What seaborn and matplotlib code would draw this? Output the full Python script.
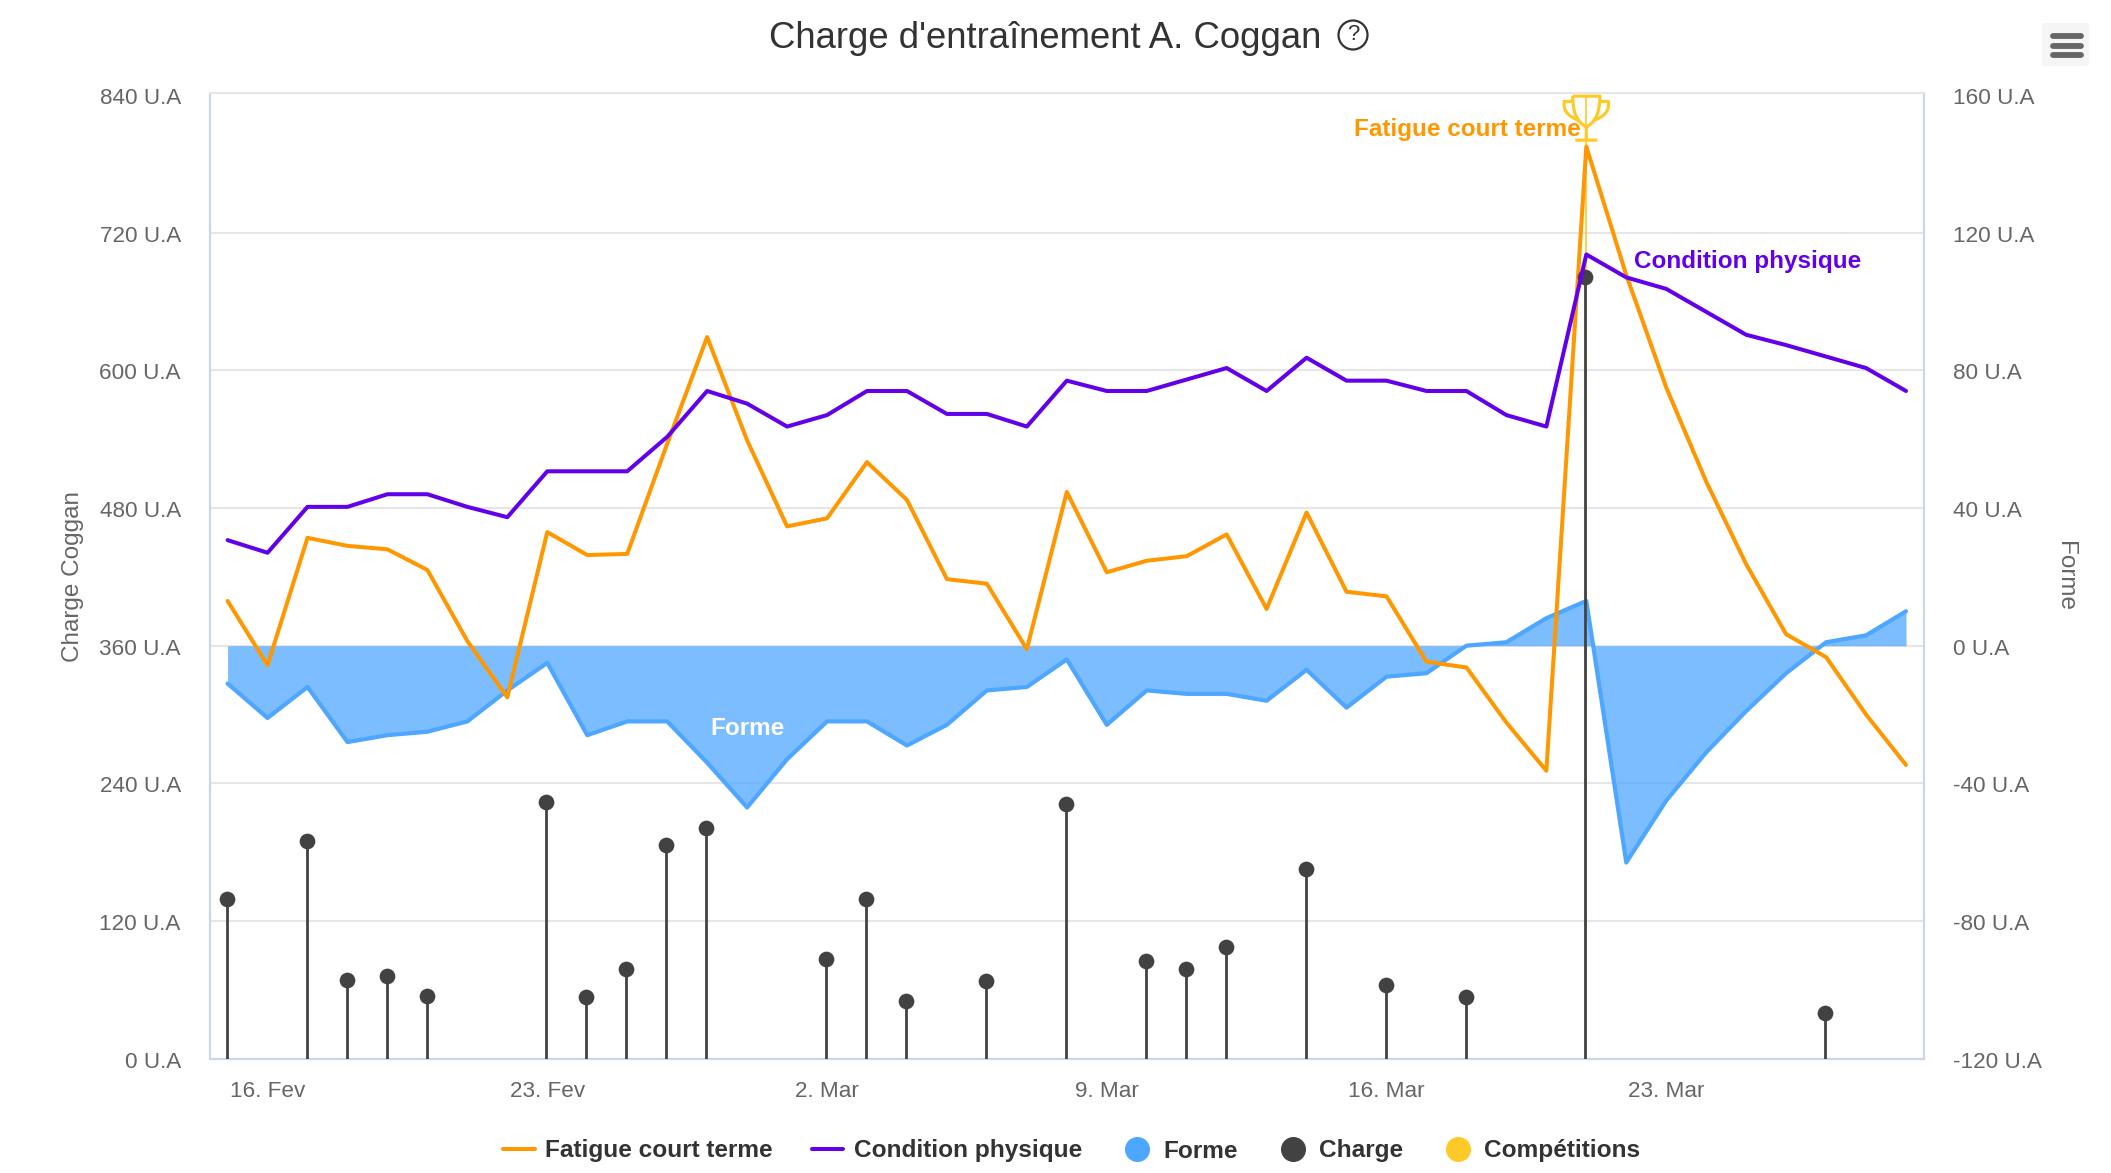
import numpy as np
import pandas as pd
import seaborn as sns
import matplotlib.pyplot as plt
from matplotlib.lines import Line2D
from matplotlib.path import Path
from matplotlib.patches import FancyBboxPatch
from matplotlib.transforms import ScaledTranslation

# daily values
start_date = "2021-02-15"
fatigue = [399, 343, 454, 447, 444, 426, 364, 315, 459, 439, 440, 536, 629, 539, 464, 471,
           520, 487, 418, 414, 357, 494, 424, 434, 438, 457, 392, 476, 407, 403, 346, 341,
           293, 251, 795, 683, 585, 503, 431, 370, 350, 300, 256]
condition = [452, 441, 481, 481, 492, 492, 481, 472, 512, 512, 512, 542, 582, 571, 551, 561,
             582, 582, 562, 562, 551, 591, 582, 582, 592, 602, 582, 611, 591, 591, 582, 582,
             561, 551, 701, 681, 671, 651, 631, 622, 612, 602, 582]
forme = [-11, -21, -12, -28, -26, -25, -22, -13, -5, -26, -22, -22, -34, -47, -33, -22,
         -22, -29, -23, -13, -12, -4, -23, -13, -14, -14, -16, -7, -18, -9, -8, 0,
         1, 8, 13, -63, -45, -31, -19, -8, 1, 3, 10]
charge = [139, None, 190, 69, 72, 55, None, None, 224, 54, 78, 186, 201, None, None, 87,
          139, 50, None, 68, None, 222, None, 85, 78, 97, None, 165, None, 64, None, 54,
          None, None, 681, None, None, None, None, None, 40, None, None]
competition = [None] * 34 + [839] + [None] * 8

tick_dates = ["2021-02-16", "2021-02-23", "2021-03-02", "2021-03-09", "2021-03-16", "2021-03-23"]
tick_labels = ["16. Fev", "23. Fev", "2. Mar", "9. Mar", "16. Mar", "23. Mar"]
left_ticks = [0, 120, 240, 360, 480, 600, 720, 840]
right_ticks = [-120, -80, -40, 0, 40, 80, 120, 160]

ORANGE = "#ff9800"
PURPLE = "#6200ea"
BLUE = "#4da6ff"
DARK = "#424242"
GOLD = "#ffca28"
AXIS = "#ccd6eb"
GRID = "#e6e6e6"
TICK = "#666666"

sns.set_theme(style="white")
plt.rcParams["font.family"] = ["Liberation Sans", "DejaVu Sans"]

df = pd.DataFrame({
    "date": pd.date_range(start_date, periods=len(fatigue)),
    "fatigue": fatigue,
    "condition": condition,
    "forme": forme,
    "charge": pd.to_numeric(pd.Series(charge)),
    "competition": pd.to_numeric(pd.Series(competition)),
})
df["stem_date"] = df["date"] - pd.Timedelta(hours=0.5)

W, H = 2111, 1173
fig = plt.figure(figsize=(W / 100, H / 100), dpi=100)
ax = fig.add_axes([210 / W, 1 - 1058.7 / H, (1924 - 210) / W, (1058.7 - 92.7) / H])
ax2 = ax.twinx()
ax.set_zorder(ax2.get_zorder() + 1)
ax.patch.set_visible(False)

# forme goes on the right axis, underneath everything else
ax2.set_ylim(-120, 160.67)
ax2.set_yticks(right_ticks)
ax2.set_yticklabels([f"{v} U.A" for v in right_ticks])
ax2.yaxis.grid(True, color=GRID, linewidth=1.5, zorder=0)
ax2.yaxis.get_gridlines()[-1].set_visible(False)
ax2.set_axisbelow(True)
ax2.fill_between(df["date"], df["forme"], 0, color=BLUE, alpha=0.74, linewidth=0, zorder=2)
sns.lineplot(data=df, x="date", y="forme", ax=ax2, color=BLUE, linewidth=3, legend=False, zorder=3)

# competition stem + trophy
comp = df.dropna(subset=["competition"])
ax.vlines(comp["date"], 0, comp["competition"], color=GOLD, linewidth=1.2, zorder=2)

# origin of the trophy marker is the top of the cup
trophy = Path(
    [(-0.31, 0), (0.31, 0), (0.31, -0.55), (0, -0.7), (-0.31, -0.55), (-0.31, 0),
     (0.31, -0.12), (0.5, -0.12), (0.55, -0.42), (0.17, -0.55),
     (-0.31, -0.12), (-0.5, -0.12), (-0.55, -0.42), (-0.17, -0.55),
     (0, -0.7), (0, -1), (-0.25, -1), (0.25, -1)],
    [Path.MOVETO, Path.LINETO, Path.CURVE3, Path.CURVE3, Path.CURVE3, Path.CURVE3,
     Path.MOVETO, Path.LINETO, Path.CURVE3, Path.CURVE3,
     Path.MOVETO, Path.LINETO, Path.CURVE3, Path.CURVE3,
     Path.MOVETO, Path.LINETO, Path.MOVETO, Path.LINETO],
)
ax.scatter(comp["date"], comp["competition"], marker=trophy, s=4020, facecolors="none",
           edgecolors=GOLD, linewidths=2.3, zorder=6)

# charge lollipops
pts = df.dropna(subset=["charge"])
ax.vlines(pts["stem_date"], 0, pts["charge"], color=DARK, linewidth=2, zorder=3)
sns.scatterplot(data=pts, x="stem_date", y="charge", ax=ax, color=DARK, s=128, linewidth=0, legend=False, zorder=4)

sns.lineplot(data=df, x="date", y="fatigue", ax=ax, color=ORANGE, linewidth=2.9, legend=False, zorder=3)
sns.lineplot(data=df, x="date", y="condition", ax=ax, color=PURPLE, linewidth=2.9, legend=False, zorder=5)

ax.set_ylim(0, 842)
ax.set_yticks(left_ticks)
ax.set_yticklabels([f"{v} U.A" for v in left_ticks])
ax.set_xlim(df["date"][0] - pd.Timedelta(days=0.44), df["date"][0] + pd.Timedelta(days=42.45))
ax.set_xticks(pd.to_datetime(tick_dates) - pd.Timedelta(hours=2))
ax.set_xticklabels(tick_labels)

ax.tick_params(axis="x", length=14, width=1.5, color=AXIS, labelcolor=TICK, labelsize=16.2, pad=2)
ax.tick_params(axis="y", length=0, labelcolor=TICK, labelsize=16.2, pad=21)
ax2.tick_params(axis="y", length=0, labelcolor=TICK, labelsize=16.2, pad=21)

# tick labels sit a little off their ticks in the original
down = ScaledTranslation(0, -0.8 / 72, fig.dpi_scale_trans)
right = ScaledTranslation(2.4 / 72, 0, fig.dpi_scale_trans)
for t in ax.get_yticklabels() + ax2.get_yticklabels():
    t.set_transform(t.get_transform() + down)
for t in ax.get_xticklabels():
    t.set_transform(t.get_transform() + right)

for a in (ax, ax2):
    for side, sp in a.spines.items():
        sp.set_color(GRID if side == "top" else AXIS)
        sp.set_linewidth(1.5)

ax.set_xlabel("")
ax.set_ylabel("")
ax2.set_xlabel("")
ax2.set_ylabel("")
fig.text(73 / W, 1 - 576 / H, "Charge Coggan", rotation=90, ha="center", va="center", fontsize=17.5, color=TICK)
fig.text(2065 / W, 1 - 576 / H, "Forme", rotation=270, ha="center", va="center", fontsize=17.5, color=TICK)

# labels hanging off the series
peak = df["date"][34]
ax.annotate("Fatigue court terme", (peak, 795), xytext=(-4, 4), textcoords="offset points", ha="right",
            va="bottom", fontsize=17.5, fontweight="bold", color=ORANGE, zorder=7)
ax.annotate("Condition physique", (peak, 701), xytext=(34, -5), textcoords="offset points", ha="left",
            va="center", fontsize=17.5, fontweight="bold", color=PURPLE, zorder=7)
ax2.text(df["date"][13], -24.2, "Forme", ha="center", va="center", fontsize=17.5, fontweight="bold",
         color="white", zorder=7)

# title and help icon
fig.text(1045 / W, 1 - 39 / H, "Charge d'entraînement A. Coggan", ha="center", va="center", fontsize=26.3, color="#333333")
fig.text(1353 / W, 1 - 35 / H, "?", ha="center", va="center", fontsize=16, color="#333333",
         bbox=dict(boxstyle="circle,pad=0.18", facecolor="white", edgecolor="#333333", linewidth=1.6))

# export menu button
fig.add_artist(FancyBboxPatch((2042 / W, 1 - 66 / H), 47 / W, 43 / H, boxstyle="round,pad=0,rounding_size=0.002",
                              transform=fig.transFigure, facecolor="#f5f5f5", edgecolor="none"))
for yy in (36, 45.5, 55):
    fig.add_artist(Line2D([2053 / W, 2081 / W], [1 - yy / H, 1 - yy / H], color="#666666", linewidth=4.2,
                          solid_capstyle="round", transform=fig.transFigure))

handles = [
    Line2D([], [], color=ORANGE, linewidth=2.9),
    Line2D([], [], color=PURPLE, linewidth=2.9),
    Line2D([], [], color=BLUE, marker="o", markersize=17, linestyle="none"),
    Line2D([], [], color=DARK, marker="o", markersize=17, linestyle="none"),
    Line2D([], [], color=GOLD, marker="o", markersize=17, linestyle="none"),
]
names = ["Fatigue court terme", "Condition physique", "Forme", "Charge", "Compétitions"]
leg = fig.legend(handles, names, loc="center", bbox_to_anchor=(1071.5 / W, 1 - 1151 / H), ncol=5, frameon=False,
                 fontsize=17.6, handlelength=1.3, handletextpad=0.42, columnspacing=1.6, borderpad=0)
for t in leg.get_texts():
    t.set_fontweight("bold")
    t.set_color("#333333")

fig.savefig("out.png", dpi=100)
